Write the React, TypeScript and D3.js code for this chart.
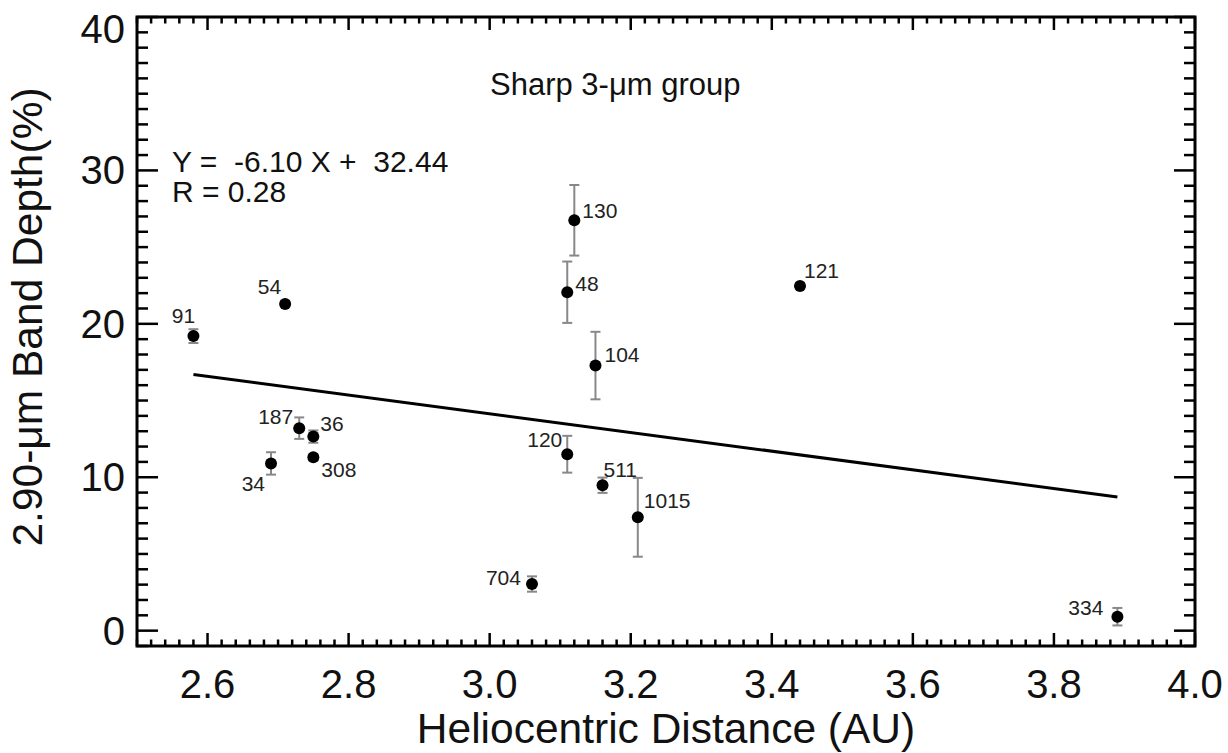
import React from "react";
import * as d3 from "d3";

// ---- data ----
const asteroids = ["91", "54", "187", "36", "308", "34", "130", "48", "104", "120", "511", "1015", "704", "121", "334"];
const distanceAU = [2.58, 2.71, 2.73, 2.75, 2.75, 2.69, 3.12, 3.11, 3.15, 3.11, 3.16, 3.21, 3.06, 3.44, 3.89];
const bandDepth = [19.2, 21.3, 13.2, 12.65, 11.3, 10.9, 26.75, 22.06, 17.28, 11.5, 9.48, 7.39, 3.04, 22.47, 0.91];
const bandDepthErr = [0.45, 0.2, 0.7, 0.4, 0.2, 0.73, 2.3, 2.0, 2.2, 1.2, 0.5, 2.57, 0.5, 0.2, 0.57];
const fitX = [2.58, 3.89];
const fitY = [16.70, 8.71];
const xTicks = [2.6, 2.8, 3.0, 3.2, 3.4, 3.6, 3.8, 4.0];
const yTicks = [0, 10, 20, 30, 40];
const title = "Sharp 3-\u03bcm group";
const fitText = ["Y =  -6.10 X +  32.44", "R = 0.28"];
const xTitle = "Heliocentric Distance (AU)";
const yTitle = "2.90-\u03bcm Band Depth(%)";

// label placement (layout, not data): [dx, dy, anchor]
const labelPlace: Record<string, [number, number, string]> = {
  "91": [-10, -13, "middle"],
  "54": [-4, -10, "end"],
  "187": [-6, -4, "end"],
  "36": [7, -6, "start"],
  "308": [8, 20, "start"],
  "34": [-6, 28, "end"],
  "130": [8, -2, "start"],
  "48": [8, -1, "start"],
  "104": [9, -4, "start"],
  "120": [-5, -7, "end"],
  "511": [1, -8, "start"],
  "1015": [6, -9, "start"],
  "704": [-11, 1, "end"],
  "121": [4, -8, "start"],
  "334": [-14, -2, "end"],
};

const W = 1228;
const H = 753;
const L = 137, R = 1195, T = 17, B = 646;
const FONT = "'Liberation Sans', Arial, Helvetica, sans-serif";

export default function App() {
  const x = d3.scaleLinear().domain([2.5, 4.0]).range([L, R]);
  const y = d3.scaleLinear().domain([-1, 40]).range([B, T]);

  const xMinor = d3.range(2.5, 4.0001, 0.02).map((v) => +v.toFixed(2));
  const yMinor = d3.range(-1, 40.001, 1);
  const xMajLen = 13, xMinLen = 6.5, yMajLen = 21, yMinLen = 11;

  const line = d3.line<number>().x((_, i) => x(fitX[i])).y((d) => y(d));

  return (
    <svg width={W} height={H} style={{ position: "absolute", left: 0, top: 0, background: "#fff" }} fontFamily={FONT}>
      <rect x={0} y={0} width={W} height={H} fill="#fff" />
      {/* ticks */}
      <g stroke="#000" strokeWidth={2.5}>
        {xMinor.map((v, i) => {
          const major = xTicks.some((t) => Math.abs(t - v) < 1e-6);
          const len = major ? xMajLen : xMinLen;
          const px = x(v);
          return (
            <g key={"xt" + i}>
              <line x1={px} x2={px} y1={B} y2={B - len} />
              <line x1={px} x2={px} y1={T} y2={T + len} />
            </g>
          );
        })}
        {yMinor.map((v, i) => {
          const major = yTicks.includes(v);
          const len = major ? yMajLen : yMinLen;
          const py = y(v);
          return (
            <g key={"yt" + i}>
              <line x1={L} x2={L + len} y1={py} y2={py} />
              <line x1={R} x2={R - len} y1={py} y2={py} />
            </g>
          );
        })}
      </g>
      <rect x={L} y={T} width={R - L} height={B - T} fill="none" stroke="#000" strokeWidth={3} />
      {/* tick labels */}
      <g fontSize={40} fill="#111">
        {xTicks.map((t) => (
          <text key={"xl" + t} x={x(t)} y={698} textAnchor="middle">{t.toFixed(1)}</text>
        ))}
        {yTicks.map((t) => (
          <text key={"yl" + t} x={L - 12} y={Math.max(y(t) + 14, 43)} textAnchor="end">{t}</text>
        ))}
      </g>
      {/* axis titles */}
      <text x={(L + R) / 2} y={743} textAnchor="middle" fontSize={42.5} fill="#111">{xTitle}</text>
      <text transform={`translate(42,317) rotate(-90)`} textAnchor="middle" fontSize={42.5} fill="#111">{yTitle}</text>
      {/* annotations */}
      <text x={490} y={95} fontSize={31} fill="#111">{title}</text>
      <text x={172} y={172} fontSize={30} fill="#111" style={{ whiteSpace: "pre" }} xmlSpace="preserve">{fitText[0]}</text>
      <text x={172} y={202} fontSize={30} fill="#111">{fitText[1]}</text>
      {/* fit line */}
      <path d={line(fitY) || ""} fill="none" stroke="#000" strokeWidth={3} />
      {/* error bars */}
      <g stroke="#888" strokeWidth={2}>
        {asteroids.map((a, i) => {
          const px = x(distanceAU[i]);
          const y1 = y(bandDepth[i] + bandDepthErr[i]);
          const y2 = y(bandDepth[i] - bandDepthErr[i]);
          return (
            <g key={"eb" + a}>
              <line x1={px} x2={px} y1={y1} y2={y2} />
              <line x1={px - 5} x2={px + 5} y1={y1} y2={y1} />
              <line x1={px - 5} x2={px + 5} y1={y2} y2={y2} />
            </g>
          );
        })}
      </g>
      {/* points */}
      <g fill="#000">
        {asteroids.map((a, i) => (
          <circle key={"pt" + a} cx={x(distanceAU[i])} cy={y(bandDepth[i])} r={6} />
        ))}
      </g>
      {/* point labels */}
      <g fontSize={21} fill="#222">
        {asteroids.map((a, i) => {
          const [dx, dy, anchor] = labelPlace[a];
          return (
            <text key={"lb" + a} x={x(distanceAU[i]) + dx} y={y(bandDepth[i]) + dy} textAnchor={anchor as any}>{a}</text>
          );
        })}
      </g>
    </svg>
  );
}
